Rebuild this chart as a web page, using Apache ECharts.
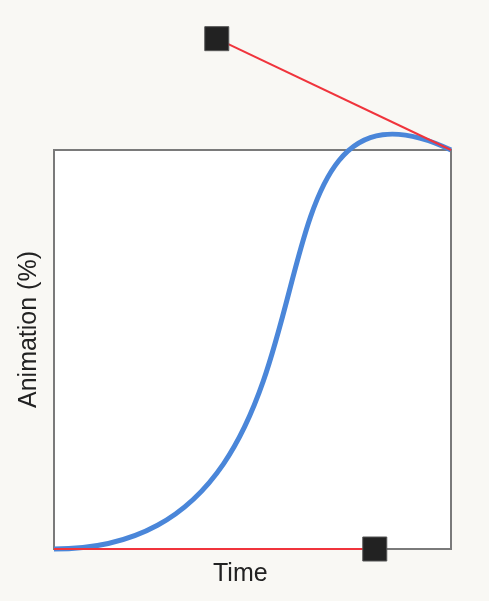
<!doctype html>
<html lang="en">
<head>
    <meta charset="UTF-8">
    <title>Easing curve</title>
    <style>
        html, body {
            margin: 0;
            padding: 0;
            background: #f9f8f4;
        }
        #chart {
            width: 489px;
            height: 601px;
        }
    </style>
    <script src="https://cdn.jsdelivr.net/npm/echarts@6/dist/echarts.min.js"></script>
</head>
<body>
<div id="chart"></div>
<script type="text/javascript">
    // ends of the easing curve (time %, animation %)
    var startPt = [0, 0];
    var endPt = [100, 100];

    // control handles: first hangs off the start, second off the end
    var handleTime = [80.8, 41.0];
    var handleAnim = [0, 127.9];

    var handles = [];
    for (var j = 0; j < handleTime.length; j++) {
        handles.push([handleTime[j], handleAnim[j]]);
    }

    var myChart = echarts.init(document.getElementById('chart'));
    myChart.setOption({
        animation: false,
        backgroundColor: '#f9f8f4',
        grid: {
            left: 54,
            top: 150,
            width: 397,
            height: 399,
            show: true,
            backgroundColor: '#ffffff',
            borderColor: '#7a7a7a',
            borderWidth: 2
        },
        xAxis: {
            type: 'value',
            min: 0,
            max: 100,
            axisLine: {show: false},
            axisTick: {show: false},
            axisLabel: {show: false},
            splitLine: {show: false}
        },
        yAxis: {
            type: 'value',
            min: 0,
            max: 100,
            axisLine: {show: false},
            axisTick: {show: false},
            axisLabel: {show: false},
            splitLine: {show: false}
        },
        graphic: [
            {
                type: 'text',
                left: 213,
                top: 562,
                style: {
                    text: 'Time',
                    fill: '#222',
                    font: '25px "Liberation Sans", Arial, sans-serif'
                }
            },
            {
                type: 'text',
                x: 17,
                y: 408,
                rotation: Math.PI / 2,
                style: {
                    text: 'Animation (%)',
                    fill: '#222',
                    font: '25px "Liberation Sans", Arial, sans-serif'
                }
            }
        ],
        series: [
            {
                // the cubic bezier itself, built from the two ends and the two handles
                name: 'curve',
                type: 'custom',
                clip: false,
                data: [[handleTime[0], handleAnim[0], handleTime[1], handleAnim[1]]],
                renderItem: function (params, api) {
                    var p0 = api.coord(startPt);
                    var c1 = api.coord([api.value(0), api.value(1)]);
                    var c2 = api.coord([api.value(2), api.value(3)]);
                    var p3 = api.coord(endPt);
                    return {
                        type: 'bezierCurve',
                        shape: {
                            x1: p0[0], y1: p0[1],
                            cpx1: c1[0], cpy1: c1[1],
                            cpx2: c2[0], cpy2: c2[1],
                            x2: p3[0], y2: p3[1]
                        },
                        style: {
                            fill: null,
                            stroke: '#4a86d9',
                            lineWidth: 5
                        }
                    };
                }
            },
            {
                name: 'handle1',
                type: 'line',
                data: [startPt, handles[0]],
                clip: false,
                symbol: 'none',
                z: 3,
                lineStyle: {color: '#f0343c', width: 2}
            },
            {
                name: 'handle2',
                type: 'line',
                data: [endPt, handles[1]],
                clip: false,
                symbol: 'none',
                z: 3,
                lineStyle: {color: '#f0343c', width: 2}
            },
            {
                name: 'points',
                type: 'scatter',
                data: handles,
                clip: false,
                symbol: 'rect',
                symbolSize: 24,
                z: 5,
                itemStyle: {color: '#222', opacity: 1, borderColor: '#555', borderWidth: 1}
            }
        ]
    });
</script>
</body>
</html>
